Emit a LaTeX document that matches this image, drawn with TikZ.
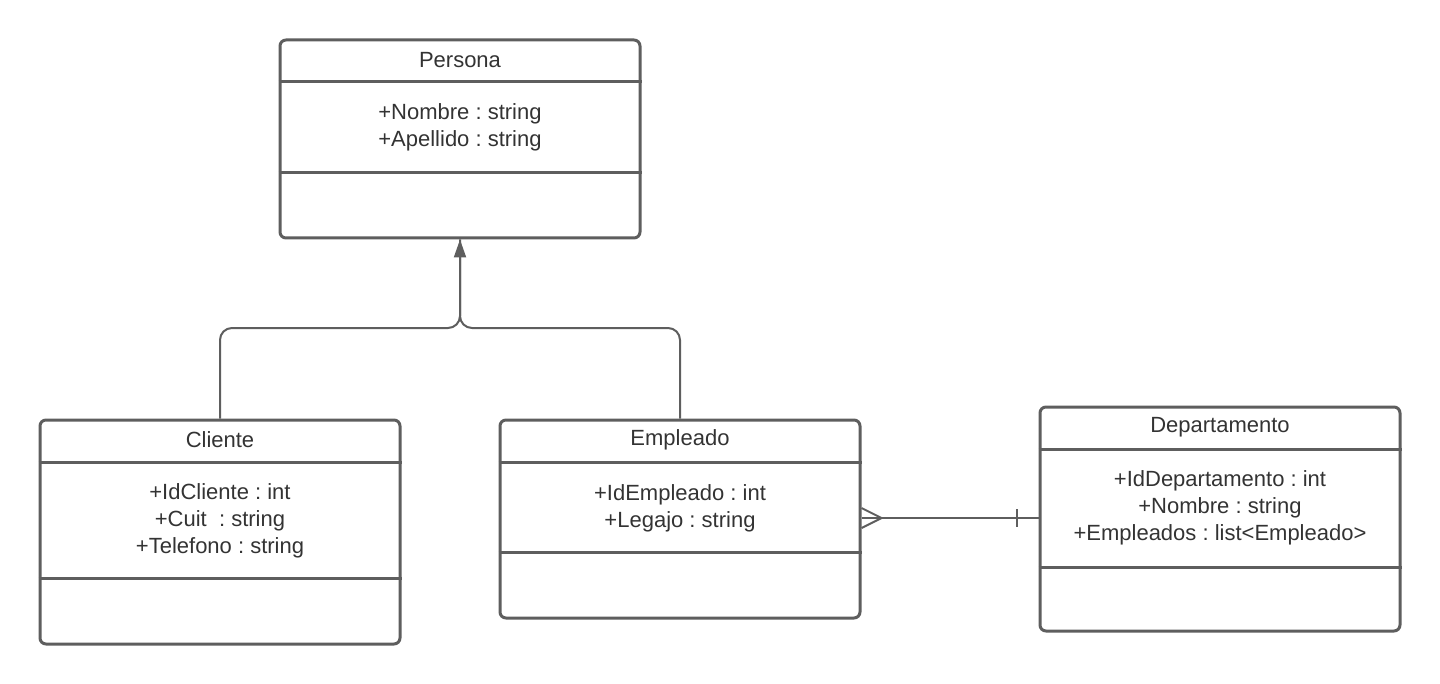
\documentclass[tikz,border=0pt]{standalone}
\usepackage{fontspec}
\setmainfont{Liberation Sans}
\usetikzlibrary{arrows.meta}
\definecolor{umlline}{HTML}{5E5E5E}
\definecolor{umltext}{HTML}{333333}
\frenchspacing
\tikzset{
	classbox/.style={draw=umlline,line width=1.5pt,rounded corners=3pt,minimum width=180pt,inner sep=0pt},
	divider/.style={draw=umlline,line width=1.5pt},
	member/.style={text=umltext,align=center,font=\fontsize{11}{13.4}\selectfont},
	link/.style={draw=umlline,line width=1pt},
}
\begin{document}
\begin{tikzpicture}[x=0.5pt,y=-0.5pt,line join=round]
		\useasboundingbox (0,0) rectangle (1440,684);
		% class boxes
		\node[classbox,minimum height=99pt] (persona) at (460,139) {};
		\node[classbox,minimum height=112pt] (cliente) at (220,532) {};
		\node[classbox,minimum height=99pt] (empleado) at (680,519) {};
		\node[classbox,minimum height=112pt] (departamento) at (1220,519) {};
		% compartments
		\draw[divider] (persona.west |- 0,82) -- (persona.east |- 0,82);
		\draw[divider] (persona.west |- 0,173) -- (persona.east |- 0,173);
		\draw[divider] (cliente.west |- 0,462) -- (cliente.east |- 0,462);
		\draw[divider] (cliente.west |- 0,578) -- (cliente.east |- 0,578);
		\draw[divider] (empleado.west |- 0,462) -- (empleado.east |- 0,462);
		\draw[divider] (empleado.west |- 0,552) -- (empleado.east |- 0,552);
		\draw[divider] (departamento.west |- 0,449) -- (departamento.east |- 0,449);
		\draw[divider] (departamento.west |- 0,567) -- (departamento.east |- 0,567);
		% names and attributes
		\node[member] (persona-name) at (460,60) {Persona};
		\node[member] (persona-attr) at (460,127) {+Nombre : string\\+Apellido : string};
		\node[member] (cliente-name) at (220,440) {Cliente};
		\node[member] (cliente-attr) at (220,521) {+IdCliente : int\\+Cuit\ \ : string\\+Telefono : string};
		\node[member] (empleado-name) at (680,440) {Empleado};
		\node[member] (empleado-attr) at (680,508) {+IdEmpleado : int\\+Legajo : string};
		\node[member] (departamento-name) at (1220,427) {Departamento};
		\node[member] (departamento-attr) at (1220,508) {+IdDepartamento : int\\+Nombre : string\\+Empleados : list<Empleado>};
		% inheritance
		\coordinate (hub) at (460,328);
		\draw[link,rounded corners=6pt] (empleado.north) |- (hub) -- (persona.south);
		\draw[link,rounded corners=6pt,-{Triangle[length=9pt,width=6pt]}] (cliente.north) |- (hub) -- (persona.south);
		% association
		\coordinate (emp-r) at (empleado.east |- 0,518);
		\coordinate (dep-l) at (departamento.west |- 0,518);
		\draw[link] (emp-r) -- (dep-l);
		\draw[link] ([yshift=5pt]emp-r) -- ([xshift=10pt]emp-r) -- ([yshift=-5pt]emp-r);
		\draw[link] ([xshift=-11pt,yshift=4.5pt]dep-l) -- ([xshift=-11pt,yshift=-4.5pt]dep-l);
		\end{tikzpicture}
\end{document}
